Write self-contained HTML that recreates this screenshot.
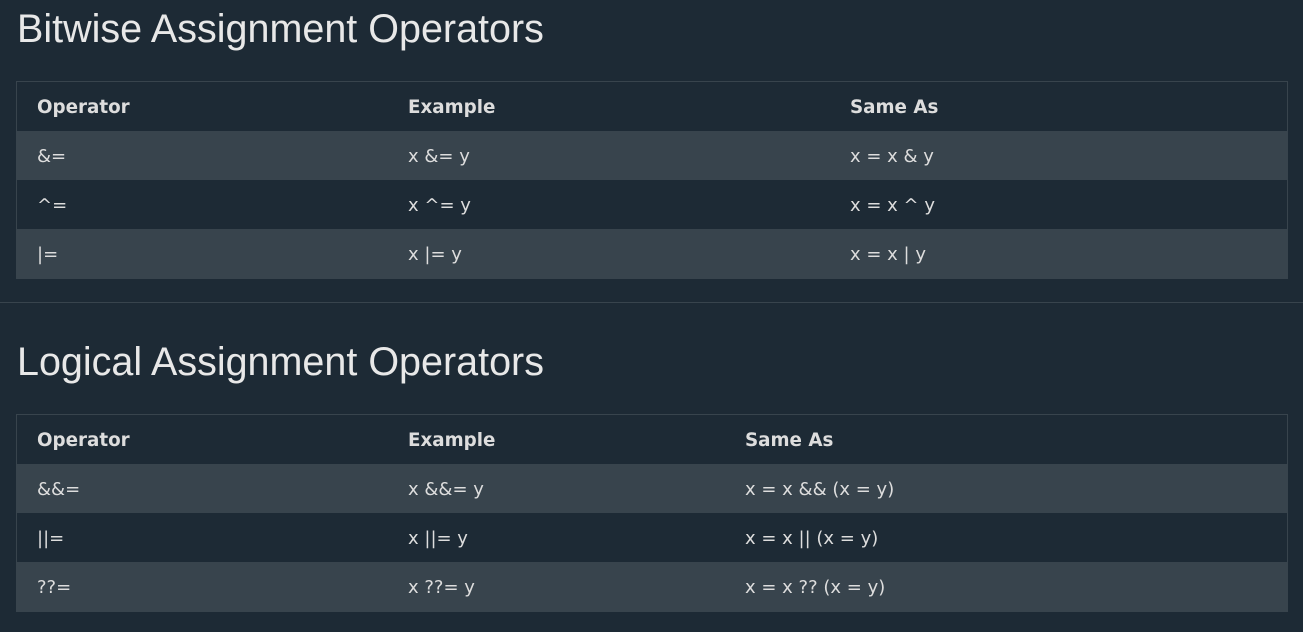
<!DOCTYPE html>
<html><head><meta charset="utf-8"><style>
html,body{margin:0;padding:0;background:#1d2a35;width:1303px;height:632px;overflow:hidden;position:relative;font-family:"DejaVu Sans","Liberation Sans",sans-serif;color:#ddd}
h2{position:absolute;left:17px;margin:0;font-family:"Liberation Sans",sans-serif;font-weight:normal;font-size:39.5px;color:#e8e8e8;line-height:44px;white-space:nowrap}
.t{position:absolute;left:16px;width:1270px;border:1px solid #38444d}
.r{position:relative;height:49px;font-size:18px}
.r.s{background:#38444d}
.r span{position:absolute;top:1px;line-height:49px;white-space:nowrap}
.h span{font-weight:bold;font-size:18.3px}
hr{position:absolute;left:0;top:302px;width:1303px;margin:0;border:0;border-top:1px solid #38444d}
</style></head><body>
<h2 style="top:7px">Bitwise Assignment Operators</h2>
<div class="t" style="top:81px">
<div class="r h"><span style="left:20px">Operator</span><span style="left:391px">Example</span><span style="left:833px">Same As</span></div>
<div class="r s"><span style="left:20px">&amp;=</span><span style="left:391px">x &amp;= y</span><span style="left:833px">x = x &amp; y</span></div>
<div class="r"><span style="left:20px">^=</span><span style="left:391px">x ^= y</span><span style="left:833px">x = x ^ y</span></div>
<div class="r s"><span style="left:20px">|=</span><span style="left:391px">x |= y</span><span style="left:833px">x = x | y</span></div>
</div>
<hr>
<h2 style="top:340px">Logical Assignment Operators</h2>
<div class="t" style="top:414px">
<div class="r h"><span style="left:20px">Operator</span><span style="left:391px">Example</span><span style="left:728px">Same As</span></div>
<div class="r s"><span style="left:20px">&amp;&amp;=</span><span style="left:391px">x &amp;&amp;= y</span><span style="left:728px">x = x &amp;&amp; (x = y)</span></div>
<div class="r"><span style="left:20px">||=</span><span style="left:391px">x ||= y</span><span style="left:728px">x = x || (x = y)</span></div>
<div class="r s"><span style="left:20px">??=</span><span style="left:391px">x ??= y</span><span style="left:728px">x = x ?? (x = y)</span></div>
</div>
</body></html>
